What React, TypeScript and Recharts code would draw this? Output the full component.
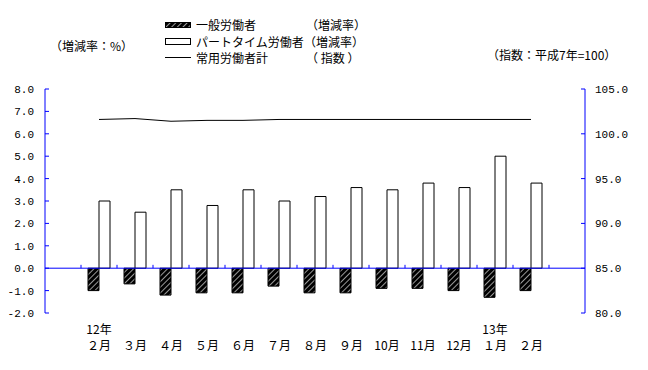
import { Bar, ComposedChart, Line, ReferenceLine, XAxis, YAxis } from 'recharts'

const MONTHS = ['２月', '３月', '４月', '５月', '６月', '７月', '８月', '９月', '10月', '11月', '12月', '１月', '２月']
const YEARS = ['12年', '', '', '', '', '', '', '', '', '', '', '13年', '']
const GENERAL = [-1.0, -0.7, -1.2, -1.1, -1.1, -0.8, -1.1, -1.1, -0.9, -0.9, -1.0, -1.3, -1.0]
const PART_TIME = [3.0, 2.5, 3.5, 2.8, 3.5, 3.0, 3.2, 3.6, 3.5, 3.8, 3.6, 5.0, 3.8]
const INDEX = [101.6, 101.7, 101.4, 101.5, 101.5, 101.6, 101.6, 101.6, 101.6, 101.6, 101.6, 101.6, 101.6]
const LEFT_TICKS = [-2, -1, 0, 1, 2, 3, 4, 5, 6, 7, 8]
const RIGHT_TICKS = [80, 85, 90, 95, 100, 105]

const data = MONTHS.map((m, i) => ({
  idx: i,
  month: m,
  general: GENERAL[i],
  partTime: PART_TIME[i],
  index: INDEX[i],
}))

// category boundaries, where the small ticks sit on the zero line
const BOUNDS = Array.from({ length: MONTHS.length + 1 }, (_, i) => i - 0.5)

const BLUE = '#0000ff'
const JP = '"Noto Sans CJK JP", sans-serif'
const MONO = '"Liberation Mono", monospace'

function MonthTick(props: any) {
  const { x, y, payload } = props
  const year = YEARS[payload.index]
  return (
    <g>
      {year && (
        <text x={x} y={y + 13} textAnchor="middle" fontSize={12} fontFamily={JP} fill="#000">
          {year}
        </text>
      )}
      <text x={x} y={y + 29} textAnchor="middle" fontSize={12} fontFamily={JP} fill="#000">
        {payload.value}
      </text>
    </g>
  )
}

function Legend() {
  const row = { position: 'absolute' as const, fontSize: 12, fontFamily: JP, lineHeight: '16px', whiteSpace: 'nowrap' as const }
  return (
    <>
      <svg style={{ position: 'absolute', left: 0, top: 0 }} width={648} height={70}>
        <defs>
          <pattern id="hatchL" width="4" height="4" patternUnits="userSpaceOnUse" patternTransform="rotate(45)">
            <rect width="4" height="4" fill="#000" />
            <line x1="0" y1="0" x2="0" y2="4" stroke="#fff" strokeWidth="1.2" />
          </pattern>
        </defs>
        <rect x={165.5} y={22.5} width={25} height={5} fill="url(#hatchL)" stroke="#000" />
        <rect x={165.5} y={38.5} width={25} height={6} fill="#fff" stroke="#000" />
        <line x1={165} y1={57.5} x2={191} y2={57.5} stroke="#000" />
      </svg>
      <div style={{ ...row, left: 196, top: 17 }}>一般労働者</div>
      <div style={{ ...row, left: 306, top: 17 }}>（増減率）</div>
      <div style={{ ...row, left: 196, top: 34 }}>パートタイム労働者</div>
      <div style={{ ...row, left: 304, top: 34 }}>（増減率）</div>
      <div style={{ ...row, left: 196, top: 50 }}>常用労働者計</div>
      <div style={{ ...row, left: 306, top: 50 }}>（ 指数 ）</div>
      <div style={{ ...row, left: 50, top: 38 }}>（増減率：%）</div>
      <div style={{ ...row, left: 487, top: 47 }}>（指数：平成7年=100）</div>
    </>
  )
}

export default function App() {
  return (
    <div style={{ position: 'absolute', left: 0, top: 0, width: 648, height: 370, background: '#fff' }}>
      <Legend />
      <ComposedChart
        width={648}
        height={370}
        data={data}
        margin={{ top: 89, right: 0, bottom: 0, left: 0 }}
        barGap={0}
        style={{ position: 'absolute', left: 0, top: 0 }}
      >
        <defs>
          <pattern id="hatch" width="4" height="4" patternUnits="userSpaceOnUse" patternTransform="rotate(45)">
            <rect width="4" height="4" fill="#000" />
            <line x1="0" y1="0" x2="0" y2="4" stroke="#fff" strokeWidth="1.2" />
          </pattern>
        </defs>
        <XAxis
          xAxisId="cat"
          dataKey="month"
          height={57}
          padding={{ left: 36, right: 36 }}
          axisLine={false}
          tickLine={false}
          interval={0}
          tick={<MonthTick />}
        />
        <XAxis xAxisId="pos" dataKey="idx" type="number" domain={[-1.5, 13.5]} allowDataOverflow hide />
        <YAxis
          yAxisId="left"
          width={45}
          domain={[-2, 8]}
          ticks={LEFT_TICKS}
          interval={0}
          allowDataOverflow
          tickFormatter={(v: number) => v.toFixed(1)}
          axisLine={{ stroke: BLUE }}
          tickLine={{ stroke: BLUE }}
          tickSize={-4}
          tickMargin={15}
          tick={{ fontSize: 11, fontFamily: MONO, fill: '#000' }}
        />
        <YAxis
          yAxisId="right"
          orientation="right"
          width={63}
          domain={[80, 105]}
          ticks={RIGHT_TICKS}
          interval={0}
          allowDataOverflow
          tickFormatter={(v: number) => v.toFixed(1)}
          axisLine={{ stroke: BLUE }}
          tickLine={{ stroke: BLUE }}
          tickSize={-4}
          tickMargin={14}
          tick={{ fontSize: 11, fontFamily: MONO, fill: '#000', textAnchor: 'start' }}
        />
        <ReferenceLine xAxisId="cat" yAxisId="left" y={0} stroke={BLUE} strokeWidth={1} />
        {BOUNDS.map((b) => (
          <ReferenceLine
            key={b}
            xAxisId="pos"
            yAxisId="left"
            segment={[{ x: b, y: 0 }, { x: b, y: 0.15 }]}
            stroke={BLUE}
          />
        ))}
        <Bar
          xAxisId="cat"
          yAxisId="left"
          dataKey="general"
          barSize={11}
          fill="url(#hatch)"
          stroke="#000"
          strokeWidth={1}
          isAnimationActive={false}
        />
        <Bar
          xAxisId="cat"
          yAxisId="left"
          dataKey="partTime"
          barSize={11}
          fill="#fff"
          stroke="#000"
          strokeWidth={1}
          isAnimationActive={false}
        />
        <Line
          xAxisId="cat"
          yAxisId="right"
          dataKey="index"
          type="linear"
          stroke="#000"
          strokeWidth={1}
          dot={false}
          isAnimationActive={false}
        />
      </ComposedChart>
    </div>
  )
}
